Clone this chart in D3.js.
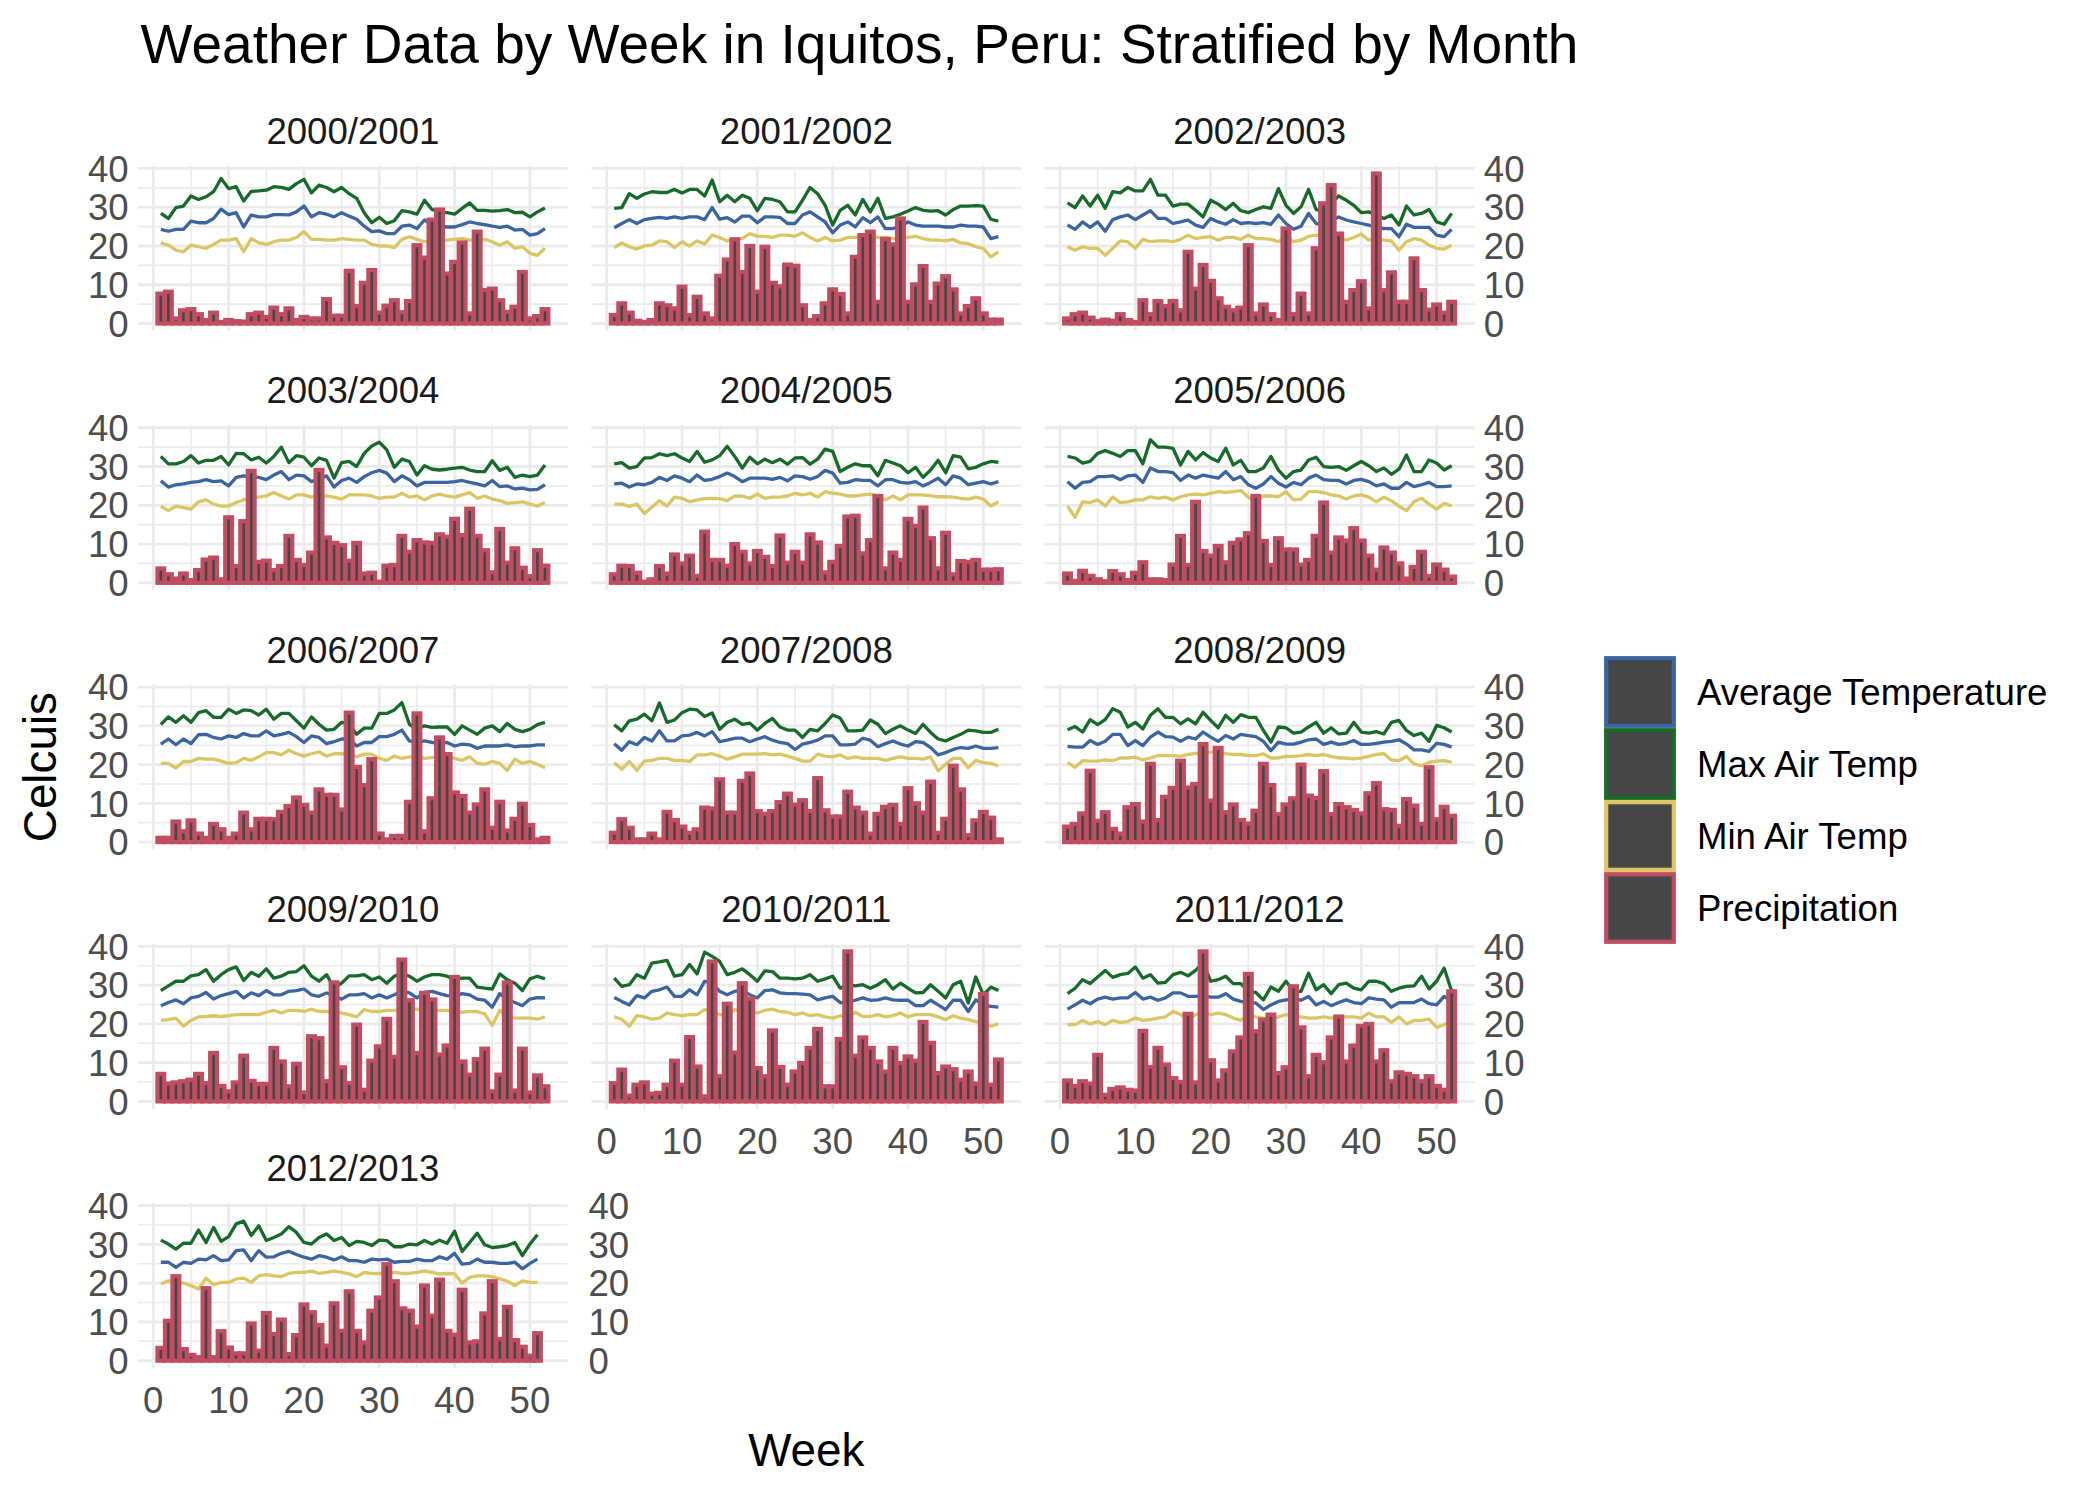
<!DOCTYPE html>
<html><head><meta charset="utf-8">
<script src="https://cdn.jsdelivr.net/npm/d3@7"></script>
<style>
body{margin:0;background:#fff}
svg{display:block}
text{font-family:"Liberation Sans",Arial,Helvetica,sans-serif}
</style>
</head><body>
<svg id="chart" width="2099" height="1499"></svg>
<script>
const seasons = ["2000/2001","2001/2002","2002/2003","2003/2004","2004/2005","2005/2006","2006/2007","2007/2008","2008/2009","2009/2010","2010/2011","2011/2012","2012/2013"];
const seriesNames = ["Average Temperature","Max Air Temp","Min Air Temp","Precipitation"];
const seriesColors = ["#3b64a1","#176a2a","#dbc665","#c04d62"];
const yTicks = [0,10,20,30,40];
const xTicks = [0,10,20,30,40,50];

const precip = [
[7.7,8.2,1.3,3.4,3.7,2.4,0.9,2.8,0.4,0.9,0.6,0.5,2.4,2.8,1.7,4.1,2.4,3.9,0.9,1.7,1.3,1.3,6.3,2.0,2.0,13.6,4.5,10.5,13.8,2.8,4.6,6.0,2.9,5.8,20.2,17.0,26.8,29.4,12.9,15.9,20.9,2.6,23.7,8.6,9.0,6.0,3.0,4.3,13.3,1.3,1.9,3.7],
[2.2,5.2,2.8,0.7,0.4,0.9,5.2,4.7,3.9,9.5,2.2,6.9,2.6,1.3,12.3,16.5,21.7,13.3,20.0,8.2,19.8,10.5,9.6,15.2,14.9,4.7,0.9,1.9,5.2,8.8,7.6,2.6,17.2,22.8,23.7,5.6,21.8,20.4,27.1,5.6,10.1,14.8,5.6,10.3,12.2,8.8,2.6,4.5,6.5,2.6,1.0,1.0],
[1.3,2.4,2.8,1.5,0.6,1.0,0.7,2.4,0.9,0.4,6.0,2.4,5.8,4.5,5.8,3.4,18.5,9.0,15.1,11.0,6.5,4.3,3.4,4.1,20.2,2.6,4.9,2.4,0.9,24.5,2.4,7.7,2.6,19.4,31.0,35.7,23.2,5.6,8.6,10.9,3.9,38.7,8.6,13.2,5.6,5.6,16.8,8.6,3.6,4.9,2.8,5.6],
[3.7,2.2,1.1,2.4,0.7,3.3,6.0,6.5,0.9,16.9,4.3,15.9,28.9,5.4,5.7,3.3,4.3,12.1,5.9,4.6,7.8,29.1,11.7,10.3,9.7,5.7,10.3,2.4,2.6,0.3,4.4,4.6,12.1,8.0,11.0,10.4,10.3,12.5,11.9,16.5,12.3,19.1,12.1,8.4,2.7,13.9,5.2,8.9,3.9,1.7,8.4,4.4],
[2.2,4.4,4.3,2.6,0.3,0.9,4.3,2.4,7.3,5.0,7.0,1.8,13.2,5.9,5.9,4.4,10.0,8.0,5.0,8.2,6.7,4.3,12.2,5.2,8.0,5.2,12.5,10.4,2.7,5.4,9.5,17.1,17.3,7.6,11.0,22.4,3.7,7.8,5.9,16.5,14.7,19.4,11.5,3.7,12.9,2.2,5.6,5.4,5.9,3.4,3.4,3.5],
[2.4,0.5,3.1,1.8,0.9,0.4,3.0,2.2,0.7,2.6,5.3,0.9,0.9,0.7,4.7,12.1,4.6,20.9,8.2,7.0,9.5,5.3,10.3,11.2,12.8,22.4,10.8,4.6,11.5,8.6,8.6,4.7,5.9,12.1,20.7,7.8,11.7,10.9,14.1,10.9,7.0,3.4,9.1,7.8,5.0,1.1,4.1,8.0,1.8,4.7,3.4,1.6],
[1.1,1.1,5.3,2.8,5.6,2.2,1.1,4.7,3.3,1.1,2.2,7.6,3.3,6.0,6.0,5.9,7.8,9.3,11.5,9.6,7.6,13.6,12.2,12.2,8.4,33.4,19.4,14.7,21.4,2.2,0.7,1.6,1.6,10.4,33.2,2.8,11.3,27.0,22.7,12.8,11.9,7.6,9.7,13.6,3.7,10.4,3.0,6.0,9.9,4.4,0.7,1.1],
[2.4,5.9,3.7,0.7,0.7,2.2,0.7,7.8,5.7,4.0,2.4,3.3,8.9,8.7,16.2,7.6,7.6,15.8,17.7,8.0,7.3,8.0,10.3,12.5,9.7,10.8,8.0,16.5,8.2,6.6,6.6,13.0,8.9,7.6,2.2,7.3,9.1,9.6,4.7,13.9,10.0,7.6,15.6,2.4,6.0,19.7,13.6,1.8,5.6,7.8,6.3,0.7],
[4.0,4.7,7.4,18.4,5.5,7.7,3.4,2.2,9.0,9.8,5.3,20.2,5.7,11.7,14.0,21.0,14.1,15.0,25.3,10.7,24.3,7.7,9.7,5.7,4.8,8.1,20.2,14.7,7.2,9.7,11.3,20.0,12.0,11.4,18.3,7.2,9.8,9.0,8.3,7.4,12.6,15.2,8.5,8.3,4.2,11.1,9.4,4.7,19.3,5.9,9.1,6.8],
[7.1,4.6,4.9,5.2,5.6,7.1,4.7,12.5,4.0,2.6,4.9,11.8,5.3,4.5,4.5,13.8,10.3,3.9,9.7,2.3,16.8,16.3,5.2,30.7,8.8,4.7,19.8,3.0,10.5,14.2,21.3,11.5,36.6,26.1,12.5,28.0,26.3,12.1,14.4,32.1,10.3,6.9,10.9,13.6,2.6,6.9,30.7,2.8,13.6,2.3,6.7,3.9],
[4.7,8.2,1.5,4.3,4.9,2.0,2.2,4.3,10.5,4.3,16.6,9.0,1.3,36.1,6.5,25.2,12.6,30.5,26.5,8.6,6.5,18.3,8.9,4.3,7.7,9.9,13.8,18.7,3.9,3.9,16.1,38.7,11.8,16.5,13.8,10.3,7.7,13.8,9.9,11.6,10.5,20.5,15.1,7.3,9.0,8.3,5.6,7.7,4.6,27.7,4.3,10.8],
[5.4,4.0,5.2,4.6,12.0,1.7,3.2,3.6,3.0,2.8,18.2,8.9,13.8,9.5,6.0,5.0,22.6,4.9,38.7,10.6,5.4,8.0,12.9,16.5,32.9,18.1,21.1,22.4,7.3,8.8,29.7,19.1,6.5,12.0,10.1,16.5,21.9,10.3,14.4,19.5,20.0,10.3,13.2,5.2,7.5,7.1,6.5,5.2,6.5,4.0,3.0,28.4],
[3.3,10.3,21.8,3.0,1.5,0.9,18.7,0.9,7.6,3.4,1.9,1.9,9.6,2.6,12.3,6.9,10.6,1.7,6.6,14.5,12.5,9.2,3.9,14.8,7.7,17.9,7.7,4.7,12.9,16.3,24.9,20.5,13.5,12.9,8.8,19.4,11.6,20.9,7.7,6.7,18.3,4.7,5.0,12.2,20.5,5.6,13.9,5.3,3.6,1.3,7.1]
];

const maxTemp = [
[28.4,27.1,29.9,30.3,32.9,32.0,32.7,34.0,37.4,34.8,35.3,31.6,34.1,34.2,34.4,35.3,35.1,34.6,36.1,37.2,33.7,35.7,35.1,34.0,35.1,33.5,32.3,28.6,26.0,27.4,25.8,26.5,29.1,28.8,28.2,31.8,29.4,28.8,28.6,28.2,29.7,31.1,29.2,29.2,29.0,29.1,29.4,28.6,28.7,27.5,28.8,29.8],
[29.7,29.9,33.5,32.3,33.4,34.0,33.8,33.8,34.6,33.7,34.6,34.6,32.9,37.0,31.4,33.1,31.4,33.1,32.3,29.1,32.3,32.0,31.4,28.8,28.8,31.8,35.1,33.5,30.5,25.4,29.2,30.5,28.0,32.0,28.8,32.3,27.1,27.5,28.2,29.0,29.9,29.2,29.0,29.1,28.0,29.4,30.3,30.3,30.4,30.3,26.9,26.4],
[31.1,29.9,32.9,30.3,33.1,29.7,34.0,33.7,35.1,34.2,34.2,37.2,33.1,33.1,30.3,30.8,30.8,29.2,27.5,31.8,30.8,29.4,31.0,29.1,28.6,29.4,30.1,29.7,34.8,30.5,28.4,30.1,34.6,29.4,29.0,31.0,32.9,31.8,30.5,28.6,28.8,28.0,27.1,28.0,25.4,30.3,28.0,28.4,29.4,26.2,25.6,28.4],
[32.6,30.7,30.7,31.3,32.8,30.9,31.6,31.6,32.6,30.4,33.4,33.3,31.7,32.4,30.9,32.6,35.0,31.0,32.8,32.4,30.2,32.2,31.6,27.0,31.0,31.3,30.0,33.4,35.3,36.3,34.3,29.8,31.9,31.3,27.8,30.2,29.3,29.1,29.3,29.6,29.8,29.1,28.7,28.7,31.5,29.0,29.8,27.2,27.8,27.4,27.8,30.4],
[30.7,31.0,29.6,30.0,32.2,32.3,33.3,32.8,33.3,32.2,31.3,33.9,31.1,31.7,32.8,35.2,32.6,29.6,32.4,30.7,31.9,31.0,31.9,30.6,32.2,32.3,30.6,31.9,34.5,33.9,28.7,29.8,30.7,30.2,30.2,27.6,31.6,30.9,30.2,28.4,29.8,27.2,29.1,31.6,28.4,32.8,32.4,29.4,29.8,30.7,31.3,31.1],
[32.6,32.2,30.9,31.3,33.4,34.1,33.4,32.6,34.1,34.1,30.7,36.9,35.0,35.0,34.7,30.4,33.9,31.7,33.6,32.2,31.3,34.7,30.4,31.6,28.7,28.7,29.6,32.6,29.1,27.0,28.7,29.1,31.7,32.4,30.0,29.8,30.0,29.0,30.2,31.3,30.2,28.7,29.6,28.0,29.3,33.0,28.7,28.7,31.7,30.9,29.1,30.2],
[30.3,32.3,30.9,32.6,30.9,33.4,33.9,32.2,32.2,34.3,33.2,34.1,33.9,32.8,34.3,31.7,33.2,33.2,31.3,29.4,32.3,30.4,28.9,29.1,30.9,30.4,27.8,29.4,29.4,33.2,33.2,34.1,36.0,30.4,29.1,30.0,29.6,29.7,29.7,27.8,30.0,28.9,27.8,29.4,30.0,28.5,30.6,29.1,28.5,29.1,30.3,30.9],
[30.3,28.7,31.3,31.7,33.0,31.3,35.9,30.9,31.5,33.4,34.3,34.1,32.4,33.3,29.1,30.9,31.7,30.4,30.7,28.9,30.6,31.9,29.7,28.9,28.9,27.0,29.1,28.7,30.6,32.8,32.0,28.7,28.7,28.9,31.5,30.4,28.0,29.1,30.0,28.9,28.0,30.4,28.3,26.6,26.1,27.0,27.8,28.9,28.7,28.3,28.3,29.1],
[29.0,29.8,28.4,31.6,30.3,31.6,34.4,33.5,29.7,30.9,29.2,32.7,34.4,32.2,32.2,30.5,31.8,30.5,33.5,31.4,29.5,32.7,30.9,32.9,32.2,32.2,28.8,25.8,29.7,29.5,28.1,28.4,29.7,30.9,28.1,29.5,27.9,28.1,30.9,28.4,28.1,28.5,27.9,30.9,31.4,28.8,27.5,28.1,26.0,30.1,29.5,28.4],
[28.6,29.8,31.0,31.0,32.4,32.7,34.0,31.0,32.7,34.0,34.7,31.2,33.3,32.3,34.2,31.8,32.3,33.3,33.5,35.0,32.3,31.0,32.7,29.2,30.5,32.4,32.4,32.7,31.4,32.1,30.5,32.3,33.1,32.3,31.0,32.1,32.7,32.7,32.3,31.4,31.8,31.8,29.5,29.2,29.0,32.9,31.4,30.5,28.6,31.6,32.3,31.6],
[31.8,29.7,30.1,32.7,31.8,35.7,36.0,36.4,32.3,32.7,35.3,32.9,38.5,37.4,36.1,32.7,33.3,34.2,32.7,31.0,33.7,33.5,31.8,31.8,31.6,31.8,32.7,31.0,31.6,32.3,29.2,30.1,29.8,30.1,29.2,30.1,31.4,29.0,30.5,29.2,28.0,28.1,30.1,28.4,26.7,30.1,31.0,25.4,32.1,27.5,29.5,28.6],
[27.8,29.2,31.4,30.4,32.1,33.8,32.0,32.7,33.0,34.7,31.8,32.7,30.5,30.7,32.7,33.3,32.4,33.8,35.7,31.0,31.4,32.3,30.4,30.4,28.4,28.1,26.2,29.5,28.4,31.0,28.4,28.4,33.1,28.8,30.1,27.8,30.1,30.5,29.2,28.8,31.0,31.0,30.4,28.4,29.2,29.7,29.8,32.3,29.0,31.0,34.4,28.4],
[31.1,30.1,28.8,30.3,30.3,33.7,30.5,34.4,30.8,32.0,35.3,36.0,32.3,34.8,31.0,31.8,32.7,34.6,33.1,30.5,30.1,31.8,32.7,31.0,31.8,29.7,30.8,30.5,29.7,31.1,31.0,29.4,29.4,30.1,29.9,31.0,30.1,31.1,30.3,33.4,28.2,30.5,32.9,29.9,29.2,29.4,29.7,30.5,27.1,30.1,32.5]
];

const avgTemp = [
[24.3,23.8,24.3,24.3,26.4,26.0,26.0,27.1,29.5,28.1,28.6,24.9,28.0,27.5,27.5,28.1,28.1,28.0,28.8,30.3,27.5,28.6,28.2,27.5,28.6,27.7,26.9,25.1,23.7,23.9,23.2,23.2,25.1,25.4,24.5,26.7,25.6,25.1,24.9,24.9,25.5,26.2,25.8,25.5,25.1,24.8,25.1,24.1,24.3,22.8,23.2,24.5],
[24.7,25.8,26.8,25.8,26.8,27.1,27.4,27.1,27.5,27.1,27.5,27.5,26.8,29.9,26.9,27.3,26.2,27.7,27.7,26.0,27.5,27.5,27.4,25.8,25.8,28.0,28.8,27.5,26.2,23.4,25.4,26.2,24.9,27.3,26.0,27.5,24.5,24.5,25.1,26.2,25.4,25.1,25.1,25.1,24.9,24.9,25.4,25.1,25.1,24.9,21.9,22.4],
[25.4,24.3,26.2,24.8,26.2,23.8,26.8,27.5,28.0,26.8,28.0,29.1,27.1,27.1,25.8,26.2,26.7,25.4,24.8,27.1,26.2,25.6,26.8,25.8,26.0,25.8,26.0,25.6,28.0,25.8,24.3,25.1,28.4,25.8,25.5,26.5,27.5,26.7,26.2,25.8,25.4,24.9,24.5,24.5,22.4,25.6,24.8,24.8,24.8,22.8,22.4,24.3],
[26.3,24.7,25.3,25.5,25.9,26.1,26.6,26.1,26.3,25.0,27.2,27.6,27.4,27.2,26.6,27.8,28.7,26.6,27.8,27.6,26.1,27.0,27.6,24.7,26.4,27.0,25.9,27.4,28.4,29.0,28.3,26.1,27.6,26.6,25.0,25.9,25.9,25.9,25.9,26.1,26.4,25.9,25.5,25.0,26.4,24.8,25.0,24.2,24.4,24.0,24.1,25.3],
[25.5,25.7,24.7,25.5,25.3,25.9,27.2,26.4,27.6,27.0,26.1,27.8,26.4,26.7,27.4,28.3,27.4,26.1,27.0,27.0,27.0,26.7,27.2,26.3,27.6,27.4,26.7,27.4,29.0,28.3,25.7,25.9,26.6,26.4,26.4,25.0,26.6,26.6,25.9,25.7,26.1,25.0,25.9,27.0,25.3,27.6,27.0,25.3,25.7,26.1,25.5,26.1],
[26.1,24.4,25.9,26.1,27.4,27.4,27.6,26.6,27.6,27.8,25.9,29.6,28.7,28.7,28.4,26.4,27.8,27.0,27.8,27.4,27.0,28.7,26.6,27.4,25.3,24.4,25.5,27.4,25.7,24.7,25.9,25.3,27.0,27.8,26.6,26.4,26.4,25.5,26.4,26.7,26.1,25.0,25.5,24.4,24.4,25.9,24.8,25.3,25.9,24.8,24.8,25.0],
[25.3,26.6,25.1,26.6,25.4,27.7,27.8,27.0,26.6,27.4,27.0,28.0,27.4,27.4,28.7,27.4,27.8,28.3,27.2,25.7,27.4,27.0,25.4,25.9,26.6,26.6,24.8,25.7,25.7,27.2,27.2,27.8,28.9,26.1,25.7,26.1,25.7,25.4,25.7,24.8,25.3,25.1,24.2,24.8,24.8,24.8,25.1,24.6,24.8,24.8,25.1,25.1],
[25.4,23.7,25.9,25.1,27.0,26.1,28.7,26.1,26.1,27.4,27.6,28.3,27.4,28.5,25.9,26.3,26.8,26.8,25.9,26.6,27.2,26.3,25.7,25.4,23.9,25.3,25.7,26.3,27.4,27.4,25.1,25.1,25.3,26.8,26.3,24.6,25.4,26.1,25.3,24.8,25.9,25.7,24.4,22.5,23.1,23.9,24.4,24.2,24.8,24.2,24.2,24.4],
[24.7,24.5,24.5,26.2,25.2,26.0,27.8,27.8,24.9,26.2,24.9,27.1,28.4,27.2,27.1,26.0,27.1,26.6,28.4,27.1,26.0,27.5,26.6,27.8,27.5,27.2,26.0,23.6,25.8,25.3,25.3,25.8,26.4,26.6,25.2,25.8,25.2,25.5,26.2,25.2,25.2,25.5,25.8,26.0,26.4,25.3,23.8,23.8,23.4,25.5,25.2,24.5],
[24.7,25.5,26.2,25.2,26.7,27.1,28.1,26.4,27.3,27.8,28.4,26.7,28.0,27.3,28.6,27.5,27.5,28.4,28.6,29.0,27.5,27.1,28.0,27.1,26.4,27.5,27.5,27.8,26.7,27.5,26.7,27.5,28.4,28.0,26.7,28.1,28.4,27.8,27.3,27.1,27.8,27.5,26.4,26.1,24.3,27.8,26.2,25.5,24.7,26.4,26.8,26.7],
[26.8,25.8,24.9,27.3,26.7,28.4,28.8,29.5,27.1,27.1,28.8,27.5,31.0,30.5,28.4,27.5,28.4,28.8,27.5,26.7,28.6,28.8,28.0,27.8,27.8,27.7,27.5,26.2,26.7,27.1,25.5,25.5,26.1,26.7,26.1,26.2,26.7,26.2,26.1,26.1,24.7,24.7,26.1,24.9,23.7,26.1,26.1,23.2,26.2,24.9,24.5,24.3],
[23.8,24.9,26.1,25.2,26.4,26.9,26.4,26.7,26.7,28.1,26.4,26.9,26.1,26.7,28.0,28.0,27.1,27.1,27.3,26.9,26.9,27.8,26.4,25.8,25.4,25.4,23.7,24.9,25.8,26.2,26.4,26.1,27.1,24.9,25.8,24.7,25.5,26.2,25.5,25.2,26.7,26.4,26.2,24.3,25.5,25.5,25.5,26.4,25.2,24.9,27.1,25.8],
[25.4,25.4,24.1,25.4,25.1,26.2,26.0,27.1,25.8,26.0,28.4,28.6,25.8,28.4,26.7,26.8,27.7,28.2,27.4,26.7,26.2,27.1,26.7,26.0,26.8,25.8,25.8,25.4,26.2,26.0,26.2,25.4,25.6,25.6,26.2,25.8,25.8,26.8,26.2,27.7,24.9,25.1,26.2,25.4,25.4,25.1,25.1,25.4,23.7,25.1,26.2]
];

const minTemp = [
[20.8,20.2,18.9,18.5,20.2,19.8,19.4,20.4,21.5,21.5,21.9,18.5,21.9,20.8,20.4,21.1,21.5,21.5,22.2,23.7,21.7,21.7,21.5,21.5,21.9,21.7,21.5,21.5,20.4,20.0,20.0,19.6,21.7,22.4,21.7,21.1,21.3,21.5,21.5,21.7,21.9,21.5,21.5,21.7,21.1,20.2,21.1,19.4,19.8,18.1,17.6,19.4],
[19.6,20.8,19.8,19.2,20.0,20.2,21.3,21.1,19.6,21.1,20.0,21.3,20.5,22.8,22.2,21.3,21.9,21.9,23.2,22.5,22.5,22.2,22.8,22.8,22.5,23.4,22.2,21.3,22.2,21.3,21.5,22.2,22.2,22.5,22.5,22.2,22.2,21.9,21.9,22.2,22.5,21.9,21.5,21.5,21.3,21.7,20.8,20.6,19.8,19.4,17.2,18.5],
[19.8,18.9,19.8,19.4,19.4,17.6,19.4,21.3,21.1,19.4,21.7,21.1,21.3,21.3,21.1,21.7,22.8,21.9,22.2,22.4,21.5,22.2,22.2,21.7,22.8,21.9,21.9,21.7,21.1,22.2,21.1,21.5,22.5,22.8,22.5,22.5,21.9,21.5,22.2,23.1,21.5,21.9,21.5,21.3,18.9,21.1,21.9,21.5,20.2,19.4,19.2,20.2],
[19.8,18.6,19.8,19.4,19.0,20.9,21.4,20.3,19.8,19.8,20.7,21.4,22.1,22.1,22.4,23.3,22.4,21.6,22.7,22.7,22.1,22.4,22.4,22.1,21.6,22.7,22.7,22.7,22.4,21.8,22.1,22.1,23.1,22.1,22.4,21.4,22.4,22.9,22.4,22.1,22.7,23.3,21.8,22.4,21.6,21.2,20.5,20.7,20.9,20.3,19.8,20.7],
[20.3,20.3,19.7,20.3,17.9,19.5,21.2,19.8,22.1,21.8,20.9,21.4,21.7,21.8,21.7,21.2,22.4,22.4,21.8,22.9,21.8,22.1,22.1,22.4,23.1,22.7,23.1,22.1,23.5,23.1,22.9,22.4,22.4,22.7,22.9,22.4,21.4,22.4,21.4,22.7,22.7,22.7,22.4,22.2,22.2,22.1,21.8,21.6,22.1,21.6,19.8,20.9],
[19.8,16.9,20.9,20.7,21.4,19.8,22.1,20.7,20.9,21.4,21.4,22.2,21.8,22.1,21.4,22.2,22.7,22.9,22.7,23.1,23.5,23.3,23.5,23.8,22.1,21.2,22.4,22.4,22.2,23.5,21.4,21.6,23.5,23.5,23.3,22.7,22.4,21.6,22.4,22.7,22.1,20.9,22.1,21.2,19.8,18.6,20.9,21.8,20.3,19.0,20.5,19.8],
[20.3,20.3,19.1,20.8,20.8,21.6,21.4,21.4,20.9,20.3,20.5,21.6,21.1,22.0,23.1,23.1,22.5,23.7,22.8,22.2,22.8,23.3,22.2,22.8,22.8,22.7,22.0,22.7,22.7,21.6,21.1,22.2,21.6,22.0,22.0,21.6,21.8,22.2,22.2,21.6,21.1,22.0,20.3,20.1,20.8,20.3,18.5,21.4,20.3,20.8,20.1,19.2],
[20.5,18.8,20.8,18.5,20.9,21.1,21.6,21.6,21.1,21.1,20.8,22.5,22.5,22.8,22.2,21.4,22.0,22.7,22.7,22.7,22.8,22.5,22.7,22.2,21.6,20.9,20.9,22.7,22.2,22.0,22.5,21.6,22.0,21.6,21.6,21.6,21.1,21.6,22.0,21.6,21.6,21.4,22.0,18.4,20.1,21.6,21.6,19.2,21.1,20.5,20.3,19.7],
[20.6,19.3,21.0,20.9,20.9,21.2,21.0,21.7,21.7,21.9,21.2,21.7,22.3,22.3,22.3,22.1,22.6,22.9,22.9,23.2,23.2,22.8,22.6,22.6,22.3,22.3,22.8,21.7,21.7,22.1,22.1,22.3,22.6,22.3,22.6,22.1,21.7,21.7,21.5,21.7,22.1,22.6,22.8,21.2,21.0,22.1,20.2,19.7,20.6,20.9,21.0,20.6],
[20.9,21.1,21.5,19.4,20.9,21.8,21.9,22.1,21.9,22.1,22.4,22.4,22.4,22.4,23.0,23.5,22.8,23.5,23.5,23.2,23.8,23.2,23.2,23.2,22.8,22.4,21.8,23.7,23.2,23.2,23.5,23.5,23.7,23.5,23.8,23.7,23.2,23.5,23.5,23.2,23.0,23.2,23.2,22.6,19.6,23.5,21.8,21.5,21.5,21.5,21.2,21.8],
[21.8,21.2,19.4,22.1,21.8,21.2,21.5,22.8,22.4,22.1,22.4,22.4,23.7,23.2,22.4,22.4,23.7,23.2,23.2,22.8,23.5,23.8,23.2,23.0,22.4,22.8,22.1,22.4,21.8,21.5,22.1,21.8,23.0,21.9,21.9,22.4,21.8,22.1,22.8,21.8,22.4,22.4,22.4,21.8,21.1,22.1,21.5,21.1,20.6,20.2,19.4,20.0],
[19.8,19.8,20.9,20.0,20.6,19.8,20.9,20.4,20.6,21.5,20.9,21.1,21.5,21.8,23.2,22.4,21.1,22.4,22.8,22.4,22.8,22.4,21.5,20.9,22.4,21.8,21.5,21.2,21.8,22.4,22.1,21.8,21.5,21.5,21.8,21.5,21.8,21.8,21.8,21.5,22.8,21.8,21.8,20.4,21.8,20.0,20.9,20.9,21.2,19.1,19.8,20.6],
[19.8,20.6,20.5,20.0,19.4,18.5,21.3,19.6,20.2,20.2,21.1,21.3,20.2,21.9,22.2,21.9,21.7,22.5,22.8,22.8,23.1,22.5,22.8,23.1,22.8,22.4,21.7,22.8,22.5,22.5,22.5,22.8,22.5,22.5,22.8,23.2,22.8,22.4,22.5,22.4,20.0,21.5,21.9,21.9,21.7,21.1,20.5,19.4,20.6,20.2,20.2]
];

// ---------- layout ----------
const svg = d3.select("#chart");
svg.append("rect").attr("width",2099).attr("height",1499).attr("fill","#ffffff");

const FONT_SMALL = 36.6, FONT_AXIS = 45.8, FONT_TITLE = 55;
const panelW = 430, panelH = 165;
const colX = [137.9, 591.3, 1044.6];
const rowTop = r => 166 + 259.3 * r;
const nCols = 3;

const maxP = d3.max(precip.flat());
const x = d3.scaleLinear().domain([0.55 - 0.05*51.9, 52.45 + 0.05*51.9]).range([0, panelW]);
const y = d3.scaleLinear().domain([-0.05*maxP, 1.05*maxP]).range([panelH, 0]);

const lineGen = d3.line().x((d,i) => x(i+1)).y(d => y(d));
const gridColor = "#ebebeb";

seasons.forEach((season, si) => {
  const r = Math.floor(si / nCols), c = si % nCols;
  const g = svg.append("g").attr("transform", `translate(${colX[c]},${rowTop(r)})`);

  // minor grid
  [5,15,25,35].forEach(v => g.append("line").attr("x1",0).attr("x2",panelW).attr("y1",y(v)).attr("y2",y(v)).attr("stroke",gridColor).attr("stroke-width",1.6));
  [5,15,25,35,45].forEach(v => g.append("line").attr("y1",0).attr("y2",panelH).attr("x1",x(v)).attr("x2",x(v)).attr("stroke",gridColor).attr("stroke-width",1.6));
  // major grid
  yTicks.forEach(v => g.append("line").attr("x1",0).attr("x2",panelW).attr("y1",y(v)).attr("y2",y(v)).attr("stroke",gridColor).attr("stroke-width",2.8));
  xTicks.forEach(v => g.append("line").attr("y1",0).attr("y2",panelH).attr("x1",x(v)).attr("x2",x(v)).attr("stroke",gridColor).attr("stroke-width",2.8));

  // lines
  [avgTemp, maxTemp, minTemp].forEach((arr, k) => {
    g.append("path").datum(arr[si]).attr("d", lineGen)
      .attr("fill","none").attr("stroke", seriesColors[k]).attr("stroke-width",3.3)
      .attr("stroke-linejoin","round").attr("stroke-linecap","butt");
  });

  // bars
  g.selectAll("rect.bar").data(precip[si]).enter().append("rect").attr("class","bar")
    .attr("x", (d,i) => x(i+1-0.45))
    .attr("width", (d,i) => x(i+1+0.45) - x(i+1-0.45))
    .attr("y", d => y(d))
    .attr("height", d => y(0) - y(d))
    .attr("fill", "#464646")
    .attr("stroke", seriesColors[3])
    .attr("stroke-width", 4.2);

  // strip title
  g.append("text").attr("x", panelW/2).attr("y", -22).attr("text-anchor","middle")
    .attr("font-size", FONT_SMALL).attr("fill","#1a1a1a").text(season);

  // y axis labels
  const leftAxis = c === 0;
  const lastInRow = (c === nCols-1) || (si === seasons.length-1);
  if (leftAxis) {
    yTicks.forEach(v => g.append("text").attr("x", -9.2).attr("y", y(v)).attr("dy","0.36em")
      .attr("text-anchor","end").attr("font-size",FONT_SMALL).attr("fill","#4d4d4d").text(v));
  }
  if (lastInRow) {
    const off = (c === nCols-1) ? 9.2 : 20.5;
    yTicks.forEach(v => g.append("text").attr("x", panelW + off).attr("y", y(v)).attr("dy","0.36em")
      .attr("text-anchor","start").attr("font-size",FONT_SMALL).attr("fill","#4d4d4d").text(v));
  }
  // x axis labels when nothing below
  if (si + nCols >= seasons.length) {
    xTicks.forEach(v => g.append("text").attr("x", x(v)).attr("y", panelH + 45)
      .attr("text-anchor","middle").attr("font-size",FONT_SMALL).attr("fill","#4d4d4d").text(v));
  }
});

// title
svg.append("text").attr("x",140.6).attr("y",63).attr("font-size",FONT_TITLE).attr("fill","#000").text("Weather Data by Week in Iquitos, Peru: Stratified by Month");
// axis titles
svg.append("text").attr("x",(colX[0]+colX[2]+panelW)/2).attr("y",1466).attr("text-anchor","middle").attr("font-size",FONT_AXIS).attr("fill","#000").text("Week");
svg.append("text").attr("transform",`translate(56,${(rowTop(0)+rowTop(4)+panelH)/2}) rotate(-90)`).attr("text-anchor","middle").attr("font-size",FONT_AXIS).attr("fill","#000").text("Celcuis");

// legend
const lg = svg.append("g").attr("transform","translate(1604,656)");
seriesNames.forEach((name, i) => {
  lg.append("rect").attr("x",2.2).attr("y",72*i+2.2).attr("width",67.6).attr("height",67.6)
    .attr("fill","#464646").attr("stroke",seriesColors[i]).attr("stroke-width",4.2);
  lg.append("text").attr("x",93).attr("y",72*i+36).attr("dy","0.36em")
    .attr("font-size",FONT_SMALL).attr("fill","#000").text(name);
});
</script>
</body></html>
